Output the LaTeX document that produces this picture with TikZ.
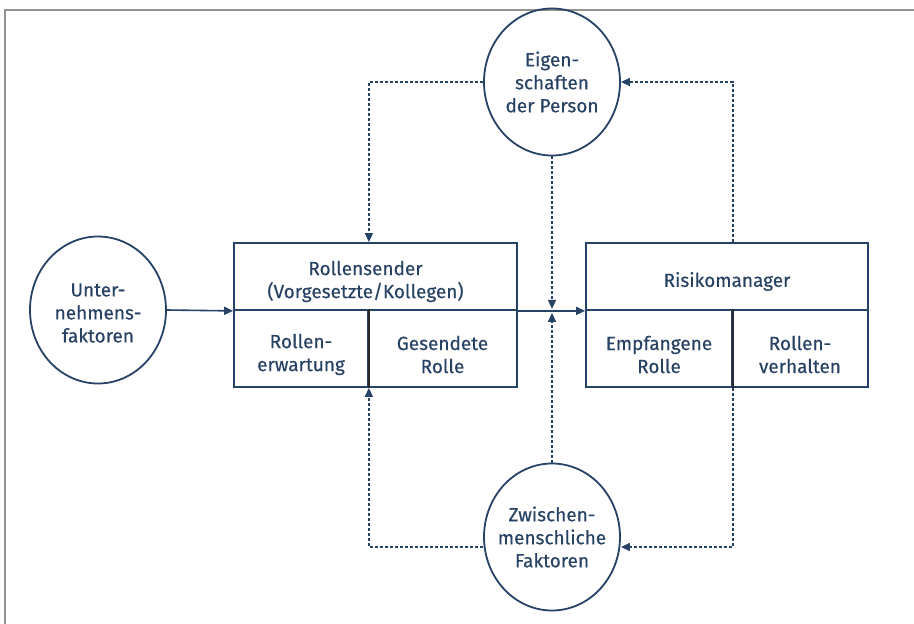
\documentclass[tikz,border=0pt]{standalone}
\usepackage{fontspec}
\setmainfont{Fira Sans}[FakeBold=0.4]
\usetikzlibrary{shapes.geometric,arrows.meta,calc}
\definecolor{navy}{RGB}{38,66,102}
\definecolor{txt}{RGB}{40,66,100}
\definecolor{divc}{RGB}{40,40,45}
\begin{document}
\begin{tikzpicture}[x=1pt,y=-1pt,
  lbl/.style={text=txt,align=center,inner sep=0pt,font=\fontsize{19}{23}\selectfont},
  circ/.style={ellipse,draw=navy,line width=1.8pt,minimum width=136pt,minimum height=147pt,inner sep=0pt},
  cell/.style={rectangle,draw=navy,line width=1.8pt,inner sep=0pt},
  solidarrow/.style={draw=navy,line width=1.6pt,-{Triangle[length=9pt,width=8pt]}},
  dasharrow/.style={draw=navy,line width=1.5pt,dash pattern=on 3pt off 2pt,-{Triangle[length=9pt,width=8pt]}}]
\useasboundingbox (0,0) rectangle (914,624);
\draw[gray!85,line width=2pt] (5,624) -- (5,10) -- (914,10);
% circles
\node[circ,label={[lbl]center:{Eigen-\\schaften\\der Person}}] (top) at (552,82) {};
\node[circ,label={[lbl,yshift=-3pt]center:{Unter-\\nehmens-\\faktoren}}] (left) at (98,310) {};
\node[circ,label={[lbl]center:{Zwischen-\\menschliche\\Faktoren}}] (bottom) at (552,537) {};
% box 1
\node[cell,minimum width=283pt,minimum height=67pt,label={[lbl,xshift=-10pt,yshift=-5pt]center:{Rollensender\\(Vorgesetzte/Kollegen)}}] (b1top) at (375.5,276.5) {};
\node[cell,minimum width=134pt,minimum height=77pt,label={[lbl,yshift=-6pt]center:{Rollen-\\erwartung}}] (b1l) at (301,348.5) {};
\node[cell,minimum width=149pt,minimum height=77pt,label={[lbl,yshift=-6pt]center:{Gesendete\\Rolle}}] (b1r) at (442.5,348.5) {};
% box 2
\node[cell,minimum width=282pt,minimum height=67pt,label={[lbl,yshift=-5pt]center:{Risikomanager}}] (b2top) at (727,276.5) {};
\node[cell,minimum width=146pt,minimum height=77pt,label={[lbl,yshift=-6pt]center:{Empfangene\\Rolle}}] (b2l) at (659,348.5) {};
\node[cell,minimum width=136pt,minimum height=77pt,label={[lbl,yshift=-6pt]center:{Rollen-\\verhalten}}] (b2r) at (800,348.5) {};
% dividers
\draw[divc,line width=1.6pt] (b1l.north east) -- (b1l.south east);
\draw[divc,line width=1.6pt] (b2l.north east) -- (b2l.south east);
% solid arrows
\draw[solidarrow] (left.east) -- (b1top.south west);
\draw[solidarrow] (b1top.south east) -- (b2top.south west);
% dashed connectors
\draw[dasharrow] (top.west) -| (b1l.east |- b1top.north);
\draw[dasharrow] (b2l.east |- b2top.north) |- (top.east);
\draw[dasharrow,shorten >=2pt] (top.south) -- (top.south |- b1top.south);
\draw[dasharrow,shorten >=2pt] (bottom.north) -- (bottom.north |- b1top.south);
\draw[dasharrow] ([yshift=-10pt]bottom.west) -| (b1l.south east);
\draw[dasharrow] (b2l.south east) |- ([yshift=-10pt]bottom.east);
\end{tikzpicture}
\end{document}
